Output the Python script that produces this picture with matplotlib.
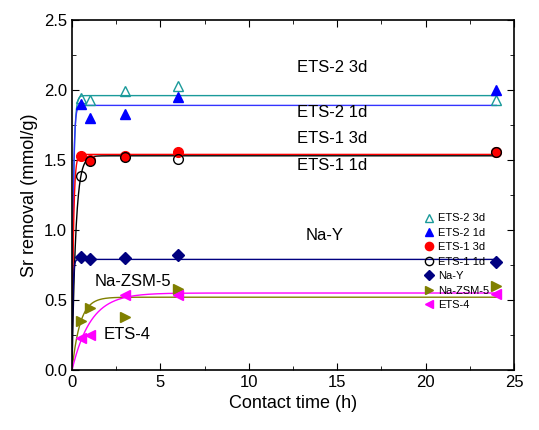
import numpy as np
import matplotlib
matplotlib.use("Agg")
import matplotlib.pyplot as plt
from matplotlib.ticker import MultipleLocator

plt.rcParams.update({
    "font.family": ["Liberation Sans", "DejaVu Sans"],
    "font.size": 12,
})

# ── Data ──────────────────────────────────────────────────────────────────── #
time_h = [0.5, 1, 3, 6, 24]

ets2_3d = [1.94, 1.93, 1.99, 2.03, 1.93]
ets2_1d = [1.90, 1.80, 1.83, 1.95, 2.00]
ets1_3d = [1.53, 1.50, 1.53, 1.56, 1.56]
ets1_1d = [1.385, 1.49, 1.52, 1.51, 1.56]
na_y    = [0.81, 0.79, 0.80, 0.82, 0.77]
na_zsm5 = [0.35, 0.44, 0.38, 0.58, 0.60]
ets4    = [0.23, 0.25, 0.535, 0.535, 0.54]

# fitted curves q = qe * (1 - exp(-k t)): (qe, k)
fit_params = {
    "ETS-2 3d": (1.96, 12.0),
    "ETS-2 1d": (1.89, 14.0),
    "ETS-1 3d": (1.54, 12.0),
    "ETS-1 1d": (1.53, 4.7),
    "Na-Y":     (0.79, 20.0),
    "Na-ZSM-5": (0.52, 2.2),
    "ETS-4":    (0.55, 0.95),
}

series = [
    ("ETS-2 3d", ets2_3d, dict(marker="^", mfc="none", mec="#1a9a9a", ms=7), "#1a9a9a"),
    ("ETS-2 1d", ets2_1d, dict(marker="^", mfc="#0000ff", mec="#0000ff", ms=7), "#3333ff"),
    ("ETS-1 3d", ets1_3d, dict(marker="o", mfc="#ff0000", mec="#ff0000", ms=7), "#ff0000"),
    ("ETS-1 1d", ets1_1d, dict(marker="o", mfc="none", mec="black", ms=7), "black"),
    ("Na-Y",     na_y,    dict(marker="D", mfc="#000080", mec="#000080", ms=6), "#000080"),
    ("Na-ZSM-5", na_zsm5, dict(marker=">", mfc="#808000", mec="#808000", ms=7), "#808000"),
    ("ETS-4",    ets4,    dict(marker="<", mfc="#ff00ff", mec="#ff00ff", ms=7), "#ff00ff"),
]

# ── Plot ──────────────────────────────────────────────────────────────────── #
fig = plt.figure(figsize=(5.39, 4.30), dpi=100)
ax = fig.add_axes([0.1336, 0.1395, 0.82, 0.814])

t_fit = np.linspace(0, 24, 2000)
for name, vals, mk, col in series:
    qe, k = fit_params[name]
    ax.plot(t_fit, qe * (1 - np.exp(-k * t_fit)), color=col, lw=1.0, zorder=2)
for name, vals, mk, col in series:
    ax.plot(time_h, vals, ls="none", label=name, zorder=3, **mk)

ax.set_xlim(0, 25)
ax.set_ylim(0, 2.5)
ax.xaxis.set_major_locator(MultipleLocator(5))
ax.xaxis.set_minor_locator(MultipleLocator(2.5))
ax.yaxis.set_major_locator(MultipleLocator(0.5))
ax.yaxis.set_minor_locator(MultipleLocator(0.25))
ax.yaxis.set_major_formatter(plt.FuncFormatter(lambda v, p: f"{v:.1f}"))
ax.tick_params(which="both", direction="in", top=True, right=True)
ax.tick_params(which="major", length=5)
ax.tick_params(which="minor", length=3)
for s in ax.spines.values():
    s.set_linewidth(1.2)

ax.set_xlabel("Contact time (h)", fontsize=13)
ax.set_ylabel("Sr removal (mmol/g)", fontsize=13)

ax.text(12.75, 2.13, "ETS-2 3d", fontsize=12)
ax.text(12.75, 1.81, "ETS-2 1d", fontsize=12)
ax.text(12.75, 1.62, "ETS-1 3d", fontsize=12)
ax.text(12.75, 1.43, "ETS-1 1d", fontsize=12)
ax.text(13.2, 0.93, "Na-Y", fontsize=12)
ax.text(1.3, 0.60, "Na-ZSM-5", fontsize=12)
ax.text(1.8, 0.22, "ETS-4", fontsize=12)

ax.legend(loc="upper left", bbox_to_anchor=(0.785, 0.46), frameon=False,
          fontsize=8, handletextpad=0.3, labelspacing=0.4, borderaxespad=0,
          handlelength=1.0, markerscale=0.85)

fig.savefig("out.png", dpi=100)
